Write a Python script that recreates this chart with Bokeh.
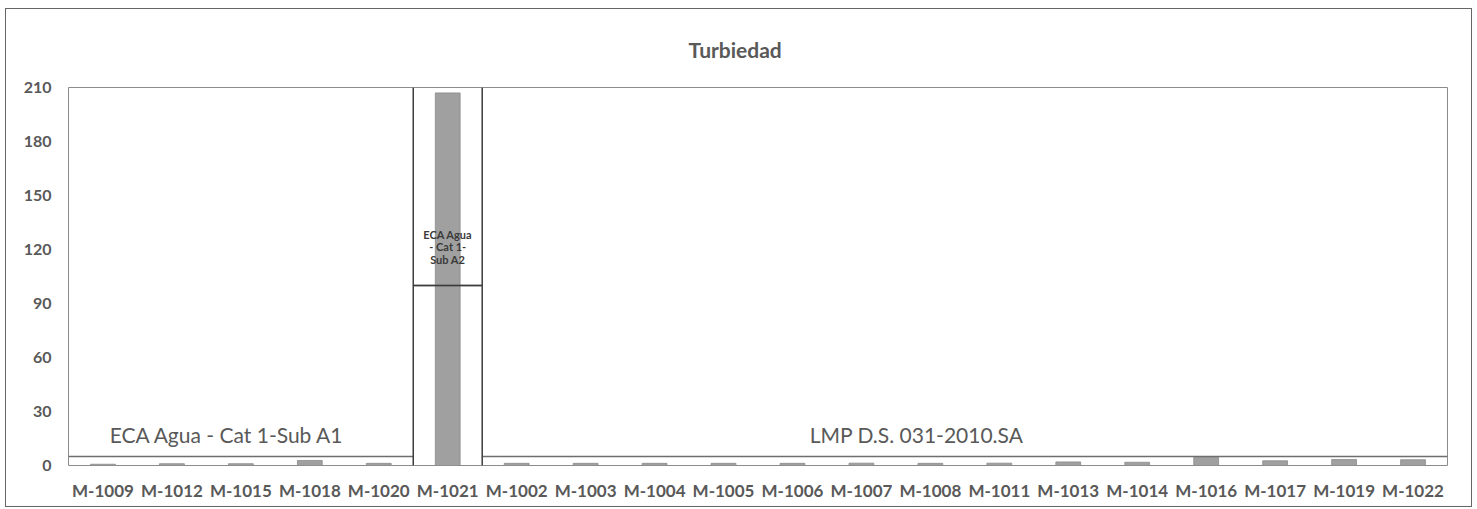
from bokeh.plotting import figure
from bokeh.models import FactorRange, Range1d, ColumnDataSource, FixedTicker
from bokeh.core.properties import value
from bokeh.embed import file_html
from bokeh.resources import INLINE

# ---- data ----
stations = ["M-1009", "M-1012", "M-1015", "M-1018", "M-1020", "M-1021",
            "M-1002", "M-1003", "M-1004", "M-1005", "M-1006", "M-1007",
            "M-1008", "M-1011", "M-1013", "M-1014", "M-1016", "M-1017",
            "M-1019", "M-1022"]
turbidity = [0.7, 1.0, 1.0, 2.8, 1.2, 207.0,
             1.2, 1.2, 1.2, 1.2, 1.2, 1.3,
             1.2, 1.3, 2.0, 1.8, 4.5, 2.6,
             3.3, 3.2]
group_names = ["ECA Agua - Cat 1-Sub A1", "ECA Agua\n- Cat 1-\nSub A2", "LMP D.S. 031-2010.SA"]
group_counts = [5, 1, 14]
group_limits = [5, 100, 5]
y_ticks = [0, 30, 60, 90, 120, 150, 180, 210]
title_text = "Turbiedad"

# ---- figure ----
p = figure(x_range=FactorRange(*stations, range_padding=0),
           y_range=Range1d(0, 210),
           width=1467, height=499,
           output_backend="svg", toolbar_location=None,
           min_border_left=62, min_border_right=26,
           min_border_top=76, min_border_bottom=43)
p.styles = {"border": "1px solid #666666", "margin-left": "5px", "margin-top": "8px"}

p.title.text = title_text
p.title.align = "left"
p.title.offset = 620
p.title.standoff = 51
p.title.text_font = "Lato"
p.title.text_font_size = "21px"
p.title.text_font_style = "bold"
p.title.text_color = "#595959"

p.outline_line_color = "#8c8c8c"
p.outline_line_width = 1
p.grid.visible = False
p.background_fill_color = "white"
p.border_fill_color = "white"

src = ColumnDataSource(dict(x=stations, y=turbidity))
p.vbar(x="x", top="y", width=0.36, source=src,
       fill_color="#a0a0a0", line_color="#8a8a8a", line_width=0.8)

# thresholds (step segments) from group data
starts = []
acc = 0
for c in group_counts:
    starts.append(acc)
    acc += c
ends = [s + c for s, c in zip(starts, group_counts)]
p.segment(x0=starts, x1=ends, y0=group_limits, y1=group_limits,
          line_color="#6e6e6e", line_width=1.5)

# middle group box (vertical separators)
mid = 1
p.segment(x0=[starts[mid], ends[mid]], x1=[starts[mid], ends[mid]],
          y0=[0, 0], y1=[210, 210], line_color="#3c3c3c", line_width=1.5)
p.segment(x0=[starts[mid]], x1=[ends[mid]], y0=[group_limits[mid]], y1=[group_limits[mid]],
          line_color="#3c3c3c", line_width=1.5)

# group labels
p.text(x=[2.3, 12.3], y=[17, 17], text=[group_names[0], group_names[2]],
       text_font=value("Lato"), text_font_size="21px", text_color="#595959",
       text_align="center", text_baseline="middle")
mid_lines = group_names[1].split("\n")
p.text(x=[starts[mid] + 0.5] * 3, y=[128.5, 121.5, 114.5], text=mid_lines,
       text_font=value("Lato"), text_font_size="11px", text_font_style="bold",
       text_color="#3a3a3a", text_align="center", text_baseline="middle")

# axes
p.yaxis.ticker = FixedTicker(ticks=y_ticks)
p.yaxis.axis_line_color = None
p.yaxis.major_tick_line_color = None
p.yaxis.minor_tick_line_color = None
p.yaxis.major_tick_out = 0
p.yaxis.major_tick_in = 0
p.yaxis.major_label_standoff = 17
p.yaxis.major_label_text_font = "Lato"
p.yaxis.major_label_text_font_size = "16px"
p.yaxis.major_label_text_font_style = "bold"
p.yaxis.major_label_text_color = "#595959"

p.xaxis.axis_line_color = None
p.xaxis.major_tick_line_color = None
p.xaxis.major_tick_out = 0
p.xaxis.major_tick_in = 0
p.xaxis.major_label_standoff = 14
p.xaxis.major_label_text_font = "Lato"
p.xaxis.major_label_text_font_size = "17px"
p.xaxis.major_label_text_font_style = "bold"
p.xaxis.major_label_text_color = "#595959"

open("out.html", "w").write(file_html(p, INLINE))
